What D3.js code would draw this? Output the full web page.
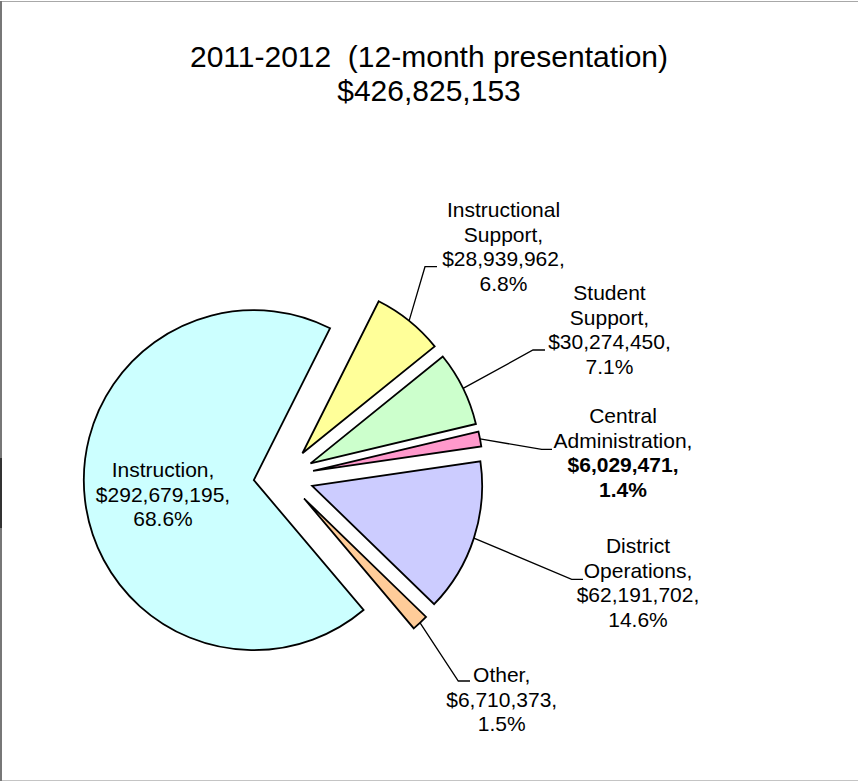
<!DOCTYPE html>
<html>
<head>
<meta charset="utf-8">
<script src="https://cdn.jsdelivr.net/npm/d3@7/dist/d3.min.js"></script>
<style>
  html, body { margin: 0; padding: 0; background: #fff; }
  svg { display: block; }
  text { font-family: "Liberation Sans", Arial, Helvetica, sans-serif; fill: #000; white-space: pre; }
</style>
</head>
<body>
<svg id="chart" width="858" height="781"></svg>
<script>
// Budget split by function, 2011-2012 (12-month presentation)
const titleLines = ["2011-2012  (12-month presentation)", "$426,825,153"];
const categories = ["Instruction", "Instructional Support", "Student Support",
                    "Central Administration", "District Operations", "Other"];
const nameLines = [["Instruction,"], ["Instructional", "Support,"], ["Student", "Support,"],
                   ["Central", "Administration,"], ["District", "Operations,"], ["Other,"]];
const amounts = [292679195, 28939962, 30274450, 6029471, 62191702, 6710373];
const percentLabels = ["68.6%", "6.8%", "7.1%", "1.4%", "14.6%", "1.5%"];
const colors = ["#CCFFFF", "#FFFF99", "#CCFFCC", "#FF99CC", "#CCCCFF", "#FFCC99"];

// Layout: label block anchors (centre x, first baseline) and leader-line elbows
const labelAnchor = {
  "Instruction":            { x: 163, y: 477, leader: null },
  "Instructional Support":  { x: 503.5, y: 217, leader: [[425, 266.7], [437, 266.7]] },
  "Student Support":        { x: 609.5, y: 300, leader: [[533, 350], [545, 350]] },
  "Central Administration": { x: 623, y: 423, leader: [[541.7, 449.3], [552, 449.3]] },
  "District Operations":    { x: 638, y: 553, leader: [[571.7, 579.3], [583, 579.3]] },
  "Other":                  { x: 501.7, y: 682, leader: [[458.3, 681], [470, 681]] }
};
const boldValueLines = new Set(["Central Administration"]);

const width = 858, height = 781;
const cx = 283.6, cy = 476.6, radius = 170, explode = 30;
const lineGap = 24.5;

const svg = d3.select("#chart");

// Frame
svg.append("line").attr("x1", 0).attr("x2", width).attr("y1", 1.5).attr("y2", 1.5)
  .attr("stroke", "#a8a8a8").attr("stroke-width", 1);
svg.append("line").attr("x1", 0).attr("x2", width).attr("y1", 780.5).attr("y2", 780.5)
  .attr("stroke", "#c4c4c4").attr("stroke-width", 1);
svg.append("line").attr("x1", 1).attr("x2", 1).attr("y1", 1).attr("y2", 781)
  .attr("stroke", "#777").attr("stroke-width", 2);
svg.append("line").attr("x1", 1).attr("x2", 1).attr("y1", 458).attr("y2", 528)
  .attr("stroke", "#333").attr("stroke-width", 2);

// Title
svg.append("g").selectAll("text").data(titleLines).join("text")
  .attr("x", 429).attr("y", (d, i) => 67 + i * 34)
  .attr("text-anchor", "middle")
  .attr("xml:space", "preserve")
  .style("font-size", "30px")
  .text(d => d);

// Pie
const startDeg = 139.8;
const pie = d3.pie().sort(null).value(d => d.value)
  .startAngle(startDeg * Math.PI / 180)
  .endAngle(startDeg * Math.PI / 180 + 2 * Math.PI);

const rows = categories.map((c, i) => ({
  name: c, value: amounts[i], pct: percentLabels[i], color: colors[i], lines: nameLines[i]
}));
const arcs = pie(rows);
const arc = d3.arc().innerRadius(0).outerRadius(radius);

function offset(a) {
  const m = (a.startAngle + a.endAngle) / 2;
  return [Math.sin(m) * explode, -Math.cos(m) * explode];
}

const fmt = d3.format("$,");

const slices = svg.append("g").attr("transform", `translate(${cx},${cy})`);
slices.selectAll("path").data(arcs).join("path")
  .attr("transform", d => { const o = offset(d); return `translate(${o[0]},${o[1]})`; })
  .attr("d", arc)
  .attr("fill", d => d.data.color)
  .attr("stroke", "#000")
  .attr("stroke-width", 1.8)
  .attr("stroke-linejoin", "miter");

// Leader lines from the slice rim to the label
const line = d3.line();
svg.append("g").selectAll("path")
  .data(arcs.filter(d => labelAnchor[d.data.name].leader))
  .join("path")
  .attr("d", d => {
    const m = (d.startAngle + d.endAngle) / 2;
    const o = offset(d);
    const start = [cx + o[0] + Math.sin(m) * radius, cy + o[1] - Math.cos(m) * radius];
    return line([start, ...labelAnchor[d.data.name].leader]);
  })
  .attr("fill", "none")
  .attr("stroke", "#000")
  .attr("stroke-width", 1.3);

// Data labels
const labels = svg.append("g").selectAll("text").data(arcs).join("text")
  .attr("text-anchor", "middle")
  .style("font-size", "21px");

labels.each(function (d) {
  const a = labelAnchor[d.data.name];
  const bold = boldValueLines.has(d.data.name);
  const all = [...d.data.lines.map(t => ({ t, b: false })),
               { t: fmt(d.data.value) + ",", b: bold },
               { t: d.data.pct, b: bold }];
  d3.select(this).selectAll("tspan").data(all).join("tspan")
    .attr("x", a.x)
    .attr("y", (l, i) => a.y + i * lineGap)
    .style("font-weight", l => l.b ? "bold" : "normal")
    .text(l => l.t);
});
</script>
</body>
</html>
